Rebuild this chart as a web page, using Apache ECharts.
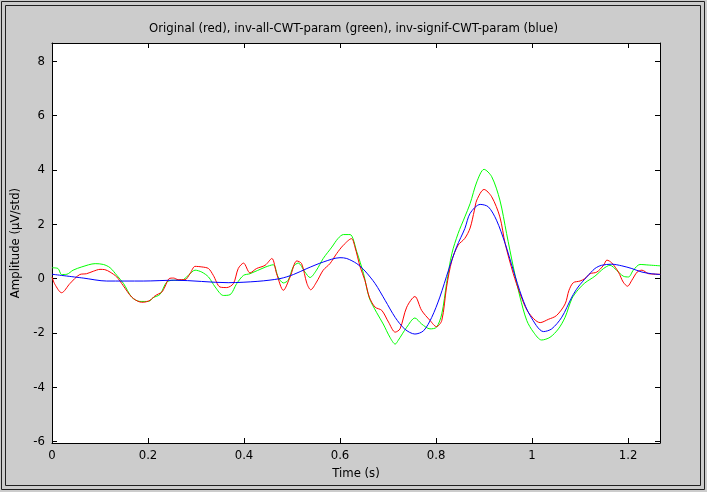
<!DOCTYPE html>
<html>
<head>
<meta charset="utf-8">
<script src="https://cdn.jsdelivr.net/npm/echarts@6/dist/echarts.min.js"></script>
<style>
html,body{margin:0;padding:0;background:#cccccc;}
#chart{width:707px;height:492px;}
</style>
</head>
<body>
<div id="chart"></div>
<script>
const titleText = 'Original (red), inv-all-CWT-param (green), inv-signif-CWT-param (blue)';
const xName = 'Time (s)';
const yName = 'Amplitude (\u00b5V/std)';
const xTicks = [0, 0.2, 0.4, 0.6, 0.8, 1, 1.2];
const yTicks = [-6, -4, -2, 0, 2, 4, 6, 8];
const xMin = 0, xMax = 1.2666;
const yMin = -6.05, yMax = 8.67;

const redT = [0,0.006,0.020,0.0375,0.058,0.072,0.086,0.100,0.110,0.121,0.135,0.148,0.166,0.183,0.190,0.204,0.215,0.229,0.235,0.244,0.253,0.263,0.277,0.2875,0.298,0.312,0.326,0.336,0.350,0.364,0.378,0.388,0.399,0.4125,0.426,0.444,0.458,0.468,0.482,0.496,0.510,0.520,0.531,0.539,0.551,0.565,0.579,0.593,0.607,0.624,0.631,0.642,0.652,0.661,0.673,0.687,0.701,0.715,0.725,0.739,0.756,0.770,0.7875,0.801,0.812,0.822,0.833,0.846,0.860,0.871,0.880,0.885,0.900,0.916,0.933,0.944,0.961,0.975,0.992,1.017,1.034,1.051,1.069,1.077,1.086,1.100,1.110,1.121,1.135,1.149,1.156,1.166,1.180,1.190,1.199,1.208,1.219,1.229,1.243,1.267];
const redV = [0.06,-0.21,-0.52,-0.18,0.15,0.18,0.27,0.34,0.33,0.24,0.06,-0.25,-0.68,-0.86,-0.87,-0.80,-0.63,-0.49,-0.31,0.00,0.02,-0.04,-0.04,0.18,0.45,0.43,0.37,0.12,-0.31,-0.33,-0.18,0.37,0.57,0.21,0.37,0.49,0.74,0.18,-0.43,0.06,0.65,0.55,-0.18,-0.41,-0.13,0.31,0.55,0.92,1.23,1.47,1.17,0.43,-0.07,-0.68,-1.05,-1.17,-1.60,-1.97,-1.85,-1.05,-0.66,-1.17,-1.54,-1.77,-1.54,-0.31,0.67,1.23,1.48,1.86,2.52,2.89,3.28,3.01,2.27,1.29,0.18,-0.55,-1.23,-1.62,-1.50,-1.36,-0.93,-0.43,-0.15,-0.09,0.00,0.18,0.24,0.49,0.68,0.58,0.24,-0.13,-0.28,-0.06,0.24,0.31,0.18,0.16];

const greenT = [0,0.0125,0.020,0.031,0.044,0.062,0.090,0.107,0.121,0.135,0.149,0.166,0.183,0.201,0.211,0.225,0.239,0.253,0.270,0.284,0.298,0.312,0.326,0.340,0.357,0.371,0.385,0.399,0.4125,0.444,0.461,0.471,0.482,0.492,0.503,0.513,0.527,0.5375,0.551,0.565,0.583,0.596,0.607,0.621,0.635,0.649,0.661,0.676,0.690,0.704,0.715,0.721,0.739,0.756,0.770,0.7875,0.801,0.812,0.822,0.833,0.846,0.860,0.871,0.885,0.900,0.916,0.933,0.947,0.961,0.975,0.989,1.003,1.020,1.0375,1.055,1.069,1.083,1.096,1.110,1.131,1.149,1.1625,1.176,1.190,1.201,1.211,1.225,1.242,1.267];
const greenV = [0.40,0.37,0.15,0.16,0.31,0.43,0.55,0.52,0.40,0.12,-0.18,-0.68,-0.84,-0.84,-0.70,-0.58,-0.13,-0.06,-0.06,0.12,0.31,0.24,0.06,-0.31,-0.62,-0.59,-0.18,0.12,0.18,0.42,0.51,0.06,-0.16,-0.06,0.45,0.57,0.24,0.04,0.31,0.74,1.16,1.48,1.62,1.62,0.98,0.18,-0.71,-1.24,-1.67,-2.16,-2.41,-2.28,-1.79,-1.45,-1.67,-1.85,-1.79,-1.30,-0.18,0.92,1.66,2.27,2.76,3.56,4.02,3.75,2.89,1.66,0.43,-0.68,-1.54,-1.97,-2.26,-2.16,-1.85,-1.42,-0.74,-0.41,-0.16,0.09,0.37,0.49,0.31,0.09,0.06,0.31,0.52,0.50,0.47];

const blueT = [0,0.065,0.114,0.190,0.256,0.367,0.429,0.475,0.503,0.531,0.565,0.600,0.614,0.635,0.652,0.673,0.694,0.715,0.735,0.756,0.774,0.791,0.808,0.826,0.843,0.860,0.871,0.892,0.909,0.926,0.944,0.961,0.979,0.996,1.024,1.041,1.062,1.083,1.096,1.114,1.131,1.145,1.166,1.187,1.208,1.229,1.249,1.267];
const blueV = [0.16,0.02,-0.09,-0.09,-0.06,-0.15,-0.10,0.00,0.15,0.37,0.61,0.77,0.74,0.55,0.28,-0.18,-0.80,-1.43,-1.86,-2.04,-1.92,-1.43,-0.68,0.31,1.17,1.84,2.40,2.73,2.64,2.15,1.29,0.31,-0.68,-1.36,-1.95,-1.85,-1.42,-0.68,-0.31,0.06,0.37,0.49,0.53,0.47,0.37,0.24,0.18,0.15];

function zip(t, v) { return t.map((x, i) => [x, v[i]]); }

const FONT = "'Liberation Sans Narrow','Arial Narrow','DejaVu Sans Condensed','Liberation Sans',Arial,sans-serif";
const chart = echarts.init(document.getElementById('chart'), null, {renderer: 'canvas'});

const baseAxis = {
  axisLine: {show: true, onZero: false, lineStyle: {color: '#000', width: 1}},
  splitLine: {show: false}
};

chart.setOption({
  backgroundColor: '#cccccc',
  animation: false,
  title: {
    text: titleText, left: 'center', top: 17,
    textStyle: {fontFamily: FONT, fontSize: 13, fontWeight: 'normal', color: '#000'}
  },
  grid: {left: 52, top: 43, width: 608, height: 400, show: true, backgroundColor: '#fff', borderWidth: 0},
  xAxis: [
    Object.assign({}, baseAxis, {
      type: 'value', position: 'bottom', min: xMin, max: xMax,
      name: xName, nameLocation: 'middle', nameGap: 15,
      nameTextStyle: {fontFamily: FONT, fontSize: 13, color: '#000'},
      axisTick: {show: true, inside: true, length: 5, lineStyle: {color: '#000'}, customValues: xTicks},
      axisLabel: {show: true, margin: 6, fontFamily: FONT, fontSize: 13, color: '#000', customValues: xTicks,
        formatter: v => String(v)}
    }),
    Object.assign({}, baseAxis, {
      type: 'value', position: 'top', min: xMin, max: xMax,
      axisTick: {show: true, inside: true, length: 5, lineStyle: {color: '#000'}, customValues: xTicks},
      axisLabel: {show: false}
    })
  ],
  yAxis: [
    Object.assign({}, baseAxis, {
      type: 'value', position: 'left', min: yMin, max: yMax,
      name: yName, nameLocation: 'middle', nameGap: 21, nameRotate: 90,
      nameTextStyle: {fontFamily: FONT, fontSize: 13, color: '#000'},
      axisTick: {show: true, inside: true, length: 5, lineStyle: {color: '#000'}, customValues: yTicks},
      axisLabel: {show: true, margin: 7, fontFamily: FONT, fontSize: 13, color: '#000', customValues: yTicks,
        formatter: v => String(v)}
    }),
    Object.assign({}, baseAxis, {
      type: 'value', position: 'right', min: yMin, max: yMax,
      axisTick: {show: true, inside: true, length: 5, lineStyle: {color: '#000'}, customValues: yTicks},
      axisLabel: {show: false}
    })
  ],
  graphic: [
    {type: 'rect', shape: {x: 1.5, y: 1.5, width: 703, height: 488}, style: {fill: null, stroke: '#202020', lineWidth: 1}, silent: true},
    {type: 'rect', shape: {x: 5.5, y: 5.5, width: 695, height: 480}, style: {fill: null, stroke: '#202020', lineWidth: 1}, silent: true}
  ],
  series: [
    {type: 'line', name: 'green', data: zip(greenT, greenV), showSymbol: false, smooth: 0.3,
      lineStyle: {color: '#00ff00', width: 1}, itemStyle: {color: '#00ff00'}, z: 2},
    {type: 'line', name: 'red', data: zip(redT, redV), showSymbol: false, smooth: 0.3,
      lineStyle: {color: '#ff0000', width: 1}, itemStyle: {color: '#ff0000'}, z: 3},
    {type: 'line', name: 'blue', data: zip(blueT, blueV), showSymbol: false, smooth: 0.3,
      lineStyle: {color: '#0000ff', width: 1}, itemStyle: {color: '#0000ff'}, z: 4}
  ]
});
</script>
</body>
</html>
